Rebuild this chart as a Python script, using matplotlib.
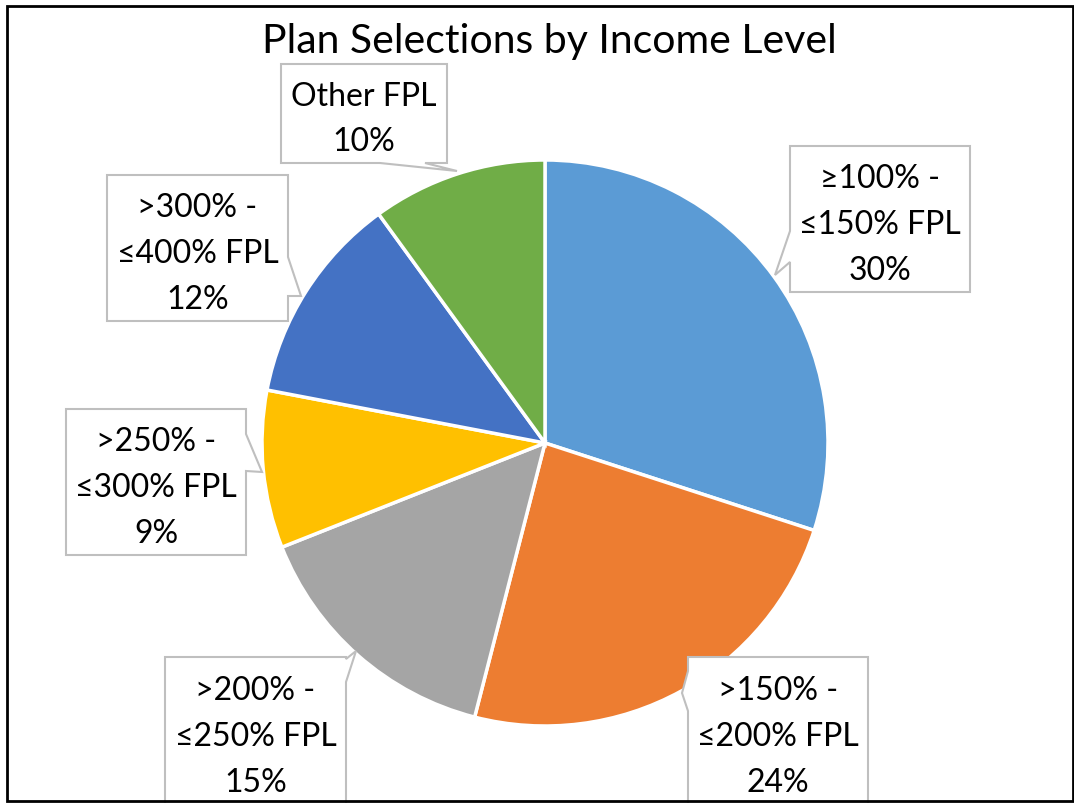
import matplotlib
matplotlib.use("Agg")
import matplotlib.pyplot as plt
from matplotlib.patches import Polygon, Rectangle

# ---- data ----
categories = ["\u2265100% -\n\u2264150% FPL", ">150% -\n\u2264200% FPL", ">200% -\n\u2264250% FPL",
              ">250% -\n\u2264300% FPL", ">300% -\n\u2264400% FPL", "Other FPL"]
values = [30, 24, 15, 9, 12, 10]
colors = ["#5B9BD5", "#ED7D31", "#A5A5A5", "#FFC000", "#4472C4", "#70AD47"]
title = "Plan Selections by Income Level"

W, H = 1074, 804
FONT = "Lato"

fig = plt.figure(figsize=(W / 100, H / 100), dpi=100)
ax = fig.add_axes([0, 0, 1, 1])

def Y(y):
    return H - y

# pie
cx, cy, r = 545, 444, 283
ax.pie(values, colors=colors, startangle=90, counterclock=False,
       center=(cx, Y(cy)), radius=r, frame=True,
       wedgeprops=dict(edgecolor="white", linewidth=2.5))
ax.set_xlim(0, W)
ax.set_ylim(0, H)
ax.axis("off")

# callout layout: box (x0, y0, x1, y1) in px, side, base pts along side, tip
callouts = [
    dict(box=(790, 147, 970, 293), side="left", a=232, b=263, tip=(775, 276)),
    dict(box=(688, 658, 868, 830), side="left", a=672, b=712, tip=(682, 694)),
    dict(box=(165, 658, 346, 830), side="right", a=683, b=660, tip=(356, 652)),
    dict(box=(66, 410, 246, 556), side="right", a=435, b=472, tip=(262, 473)),
    dict(box=(107, 176, 288, 322), side="right", a=258, b=297, tip=(301, 297)),
    dict(box=(281, 65, 447, 164), side="bottom", a=380, b=425, tip=(457, 172)),
]

for cat, val, co in zip(categories, values, callouts):
    x0, y0, x1, y1 = co["box"]
    a, b, t = co["a"], co["b"], co["tip"]
    lo, hi = min(a, b), max(a, b)
    if co["side"] == "left":
        pts = [(x0, y0), (x1, y0), (x1, y1), (x0, y1), (x0, hi), t, (x0, lo)]
    elif co["side"] == "right":
        pts = [(x0, y0), (x1, y0), (x1, lo), t, (x1, hi), (x1, y1), (x0, y1)]
    else:  # bottom
        pts = [(x0, y0), (x1, y0), (x1, y1), (hi, y1), t, (lo, y1), (x0, y1)]
    pts = [(px, Y(py)) for px, py in pts]
    ax.add_patch(Polygon(pts, closed=True, facecolor="white", edgecolor="#BFBFBF",
                         linewidth=1.5, zorder=5))
    text = f"{cat}\n{val}%"
    if y1 > H:
        cy_text = y0 + 79
    else:
        cy_text = (y0 + y1) / 2 + 5
    ax.text((x0 + x1) / 2, Y(cy_text), text, ha="center", va="center",
            fontsize=23, family=[FONT, "DejaVu Sans"], linespacing=1.66, zorder=6)

fig.text(549 / W, 1 - 42 / H, title, ha="center", va="center", fontsize=29.5,
         family=[FONT, "DejaVu Sans"])

# outer border
fig.patches.append(Rectangle((7 / W, 2 / H), (1073 - 7) / W, (802 - 7) / H,
                             transform=fig.transFigure, fill=False,
                             edgecolor="black", linewidth=2, zorder=10))

fig.savefig("out.png", dpi=100)
